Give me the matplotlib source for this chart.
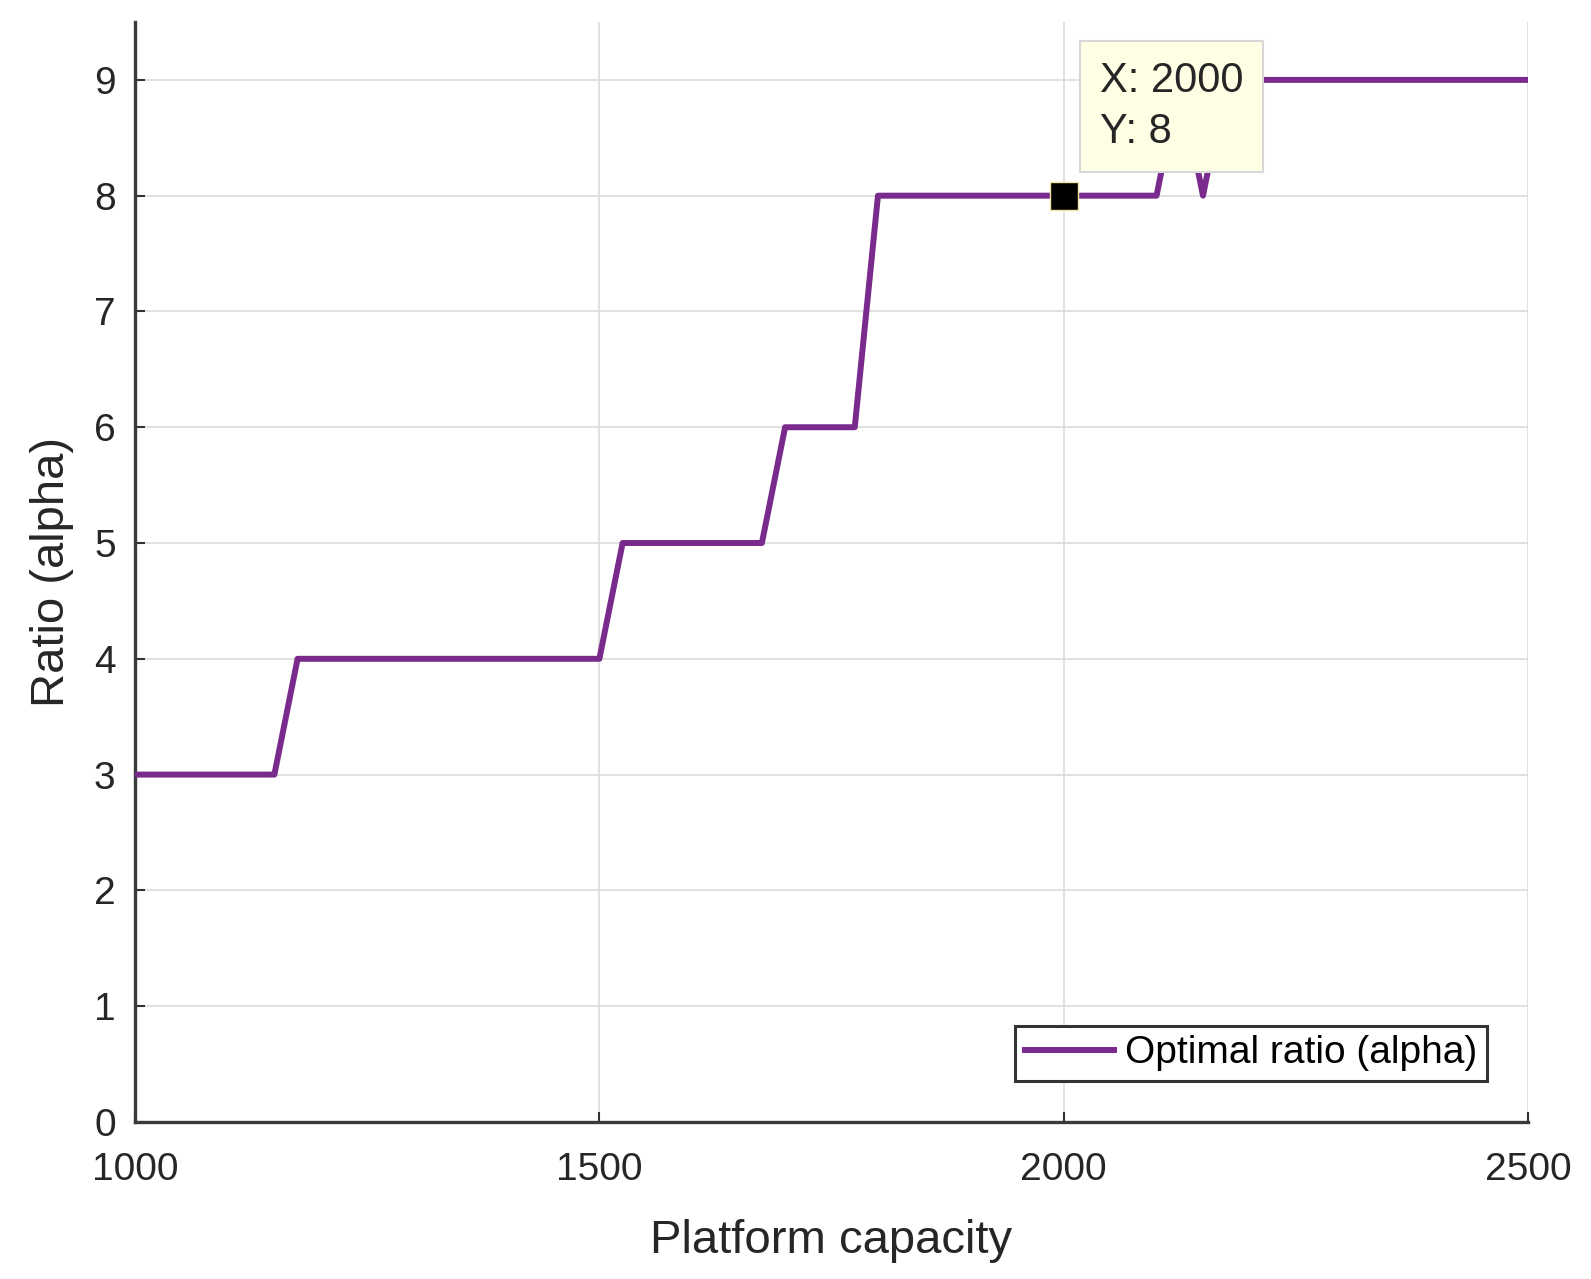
import matplotlib
matplotlib.use("Agg")
import matplotlib.pyplot as plt

# capacita' della piattaforma e rapporto ottimo alpha
capacity = [1000, 1150, 1175, 1500, 1525, 1675, 1700, 1775, 1800,
            2100, 2125, 2150, 2175, 2500]
alpha = [3, 3, 4, 4, 5, 5, 6, 6, 8, 8, 9, 8, 9, 9]

x_ticks = [1000, 1500, 2000, 2500]
y_ticks = list(range(10))

# punto evidenziato dal datatip
tip_x, tip_y = 2000, 8

plt.rcParams['font.family'] = ['Liberation Sans', 'DejaVu Sans']

fig = plt.figure(figsize=(15.91, 12.79), dpi=100)
ax = fig.add_axes([0.0849, 0.1228, 0.8755, 0.86])

line_color = '#7A2A8C'
ax.plot(capacity, alpha, color=line_color, lw=4.3,
        label='Optimal ratio (alpha)', zorder=3)

ax.set_xlim(1000, 2500)
ax.set_ylim(0, 9.5)
ax.set_xticks(x_ticks)
ax.set_yticks(y_ticks)

ax.grid(True, color='#DCDCDC', lw=1.2)
ax.set_axisbelow(True)

for s in ['top', 'right']:
    ax.spines[s].set_visible(False)
for s in ['left', 'bottom']:
    ax.spines[s].set_color('#3A3A3A')
    ax.spines[s].set_linewidth(2.4)

ax.tick_params(axis='both', direction='in', length=7, width=1.5,
               colors='#333333', labelsize=28, labelcolor='#262626',
               top=False, right=False)
ax.tick_params(axis='x', pad=22)
ax.tick_params(axis='y', pad=14)

ax.set_xlabel('Platform capacity', fontsize=34, color='#262626', labelpad=22)
ax.set_ylabel('Ratio (alpha)', fontsize=34, color='#262626', labelpad=14)

# marcatore del datatip
ax.plot([tip_x], [tip_y], marker='s', markersize=20, color='black',
        markeredgecolor='#F0E8A0', markeredgewidth=1.0, zorder=5)
ax.annotate(f'X: {tip_x}\nY: {tip_y}', xy=(tip_x, tip_y),
            xytext=(36, 44), textcoords='offset pixels',
            ha='left', va='bottom', fontsize=30, color='#262626',
            linespacing=1.35, zorder=6,
            bbox=dict(boxstyle='square,pad=0.48', fc='#FFFFE6',
                      ec='#D8D8D8', lw=1.5))

leg = ax.legend(loc='lower right', fontsize=28, frameon=True,
                fancybox=False, framealpha=1, edgecolor='#333333',
                borderpad=0.25, handlelength=2.3, handletextpad=0.28,
                borderaxespad=1.05)
leg.get_frame().set_linewidth(2.2)

fig.savefig('out.png', dpi=100)
